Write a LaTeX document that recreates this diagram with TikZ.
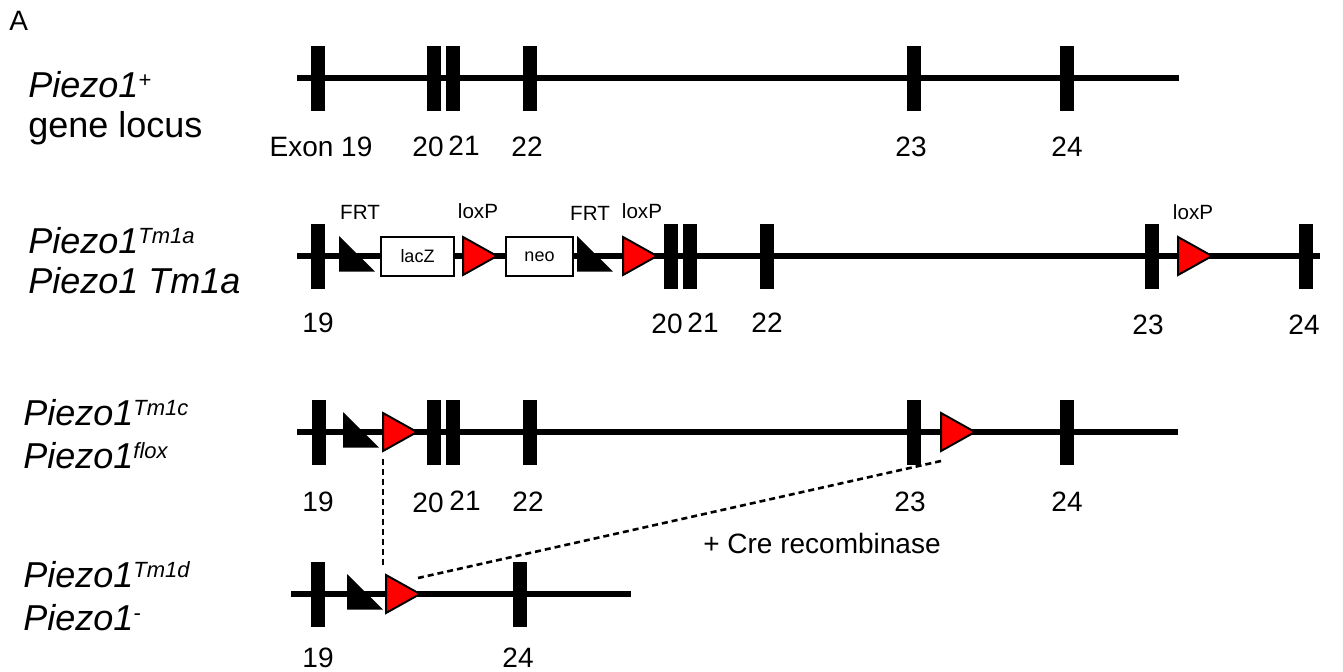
\documentclass[tikz,border=0pt]{standalone}
\usepackage{fontspec}
\setmainfont{Liberation Sans}
\usepackage{tikz}
\newcommand\gsup[1]{\raisebox{5pt}{\fontsize{11}{11}\selectfont #1}}
\tikzset{
  loxp/.pic={\filldraw[fill=red, draw=black, line width=1pt] (0,-19) -- (34,0) -- (0,19) -- cycle;
    \coordinate (-tl) at (0,-19); \coordinate (-bl) at (0,19); \coordinate (-tip) at (34,0);},
  frt/.pic={\fill (0,-20) -- (0,15.5) -- (36,15.5) -- cycle;}
}

\begin{document}
\begin{tikzpicture}[x=0.5pt, y=-0.5pt, exon/.style={fill=black, inner sep=0pt, minimum width=7pt, minimum height=32.5pt}, gene/.style={line width=3.2pt}, cassette/.style={draw=black, line width=0.9pt, fill=white, minimum width=36.5pt, minimum height=19.5pt, inner sep=0pt, font=\fontsize{9}{10}\selectfont}, site/.style={inner sep=0pt, font=\fontsize{10.3}{12}\selectfont}, num/.style={inner sep=0pt, font=\fontsize{14}{16}\selectfont}, allele/.style={anchor=base west, inner sep=0pt, font=\fontsize{18}{21}\selectfont\itshape}, cre/.style={line width=1.3pt, dash pattern=on 3pt off 2pt}
]
  \useasboundingbox (0,0) rectangle (1343,671);
  \node[anchor=base west, inner sep=0pt, font=\fontsize{14}{16}\selectfont] (panel) at (9,30) {A};

  % wild type locus
  \node[allele] (wt1) at (28,97) {Piezo1\gsup{+}};
  \node[allele, font=\fontsize{18}{21}\selectfont] (wt2) at (28,137) {gene locus};
  \draw[gene] (297,78) -- (1179,78);
  \node[exon] (a19) at (318,78) {};
  \node[exon] (a20) at (433.5,78) {};
  \node[exon] (a21) at (452.5,78) {};
  \node[exon] (a22) at (529.5,78) {};
  \node[exon] (a23) at (914,78) {};
  \node[exon] (a24) at (1067,78) {};
  \node[num] (na19) at (321,147) {Exon 19};
  \node[num] (na20) at (428,147) {20};
  \node[num] (na21) at (464,146) {21};
  \node[num] (na22) at (527,147) {22};
  \node[num] (na23) at (911,147) {23};
  \node[num] (na24) at (1067,147) {24};

  % Tm1a
  \node[allele] (tma1) at (28,253) {Piezo1\gsup{Tm1a}};
  \node[allele] (tma2) at (28,293) {Piezo1 Tm1a};
  \draw[gene] (297,256) -- (1320,256);
  \node[exon] (b19) at (318,256) {};
  \node[exon] (b20) at (671,256) {};
  \node[exon] (b21) at (690,256) {};
  \node[exon] (b22) at (767,256) {};
  \node[exon] (b23) at (1151.5,256) {};
  \node[exon] (b24) at (1305.5,256) {};
  \pic (bf1) at (339,256) {frt};
  \node[cassette] (lacz) at (417.5,256.5) {lacZ};
  \pic (b1) at (463,256) {loxp};
  \node[cassette, minimum width=33.5pt] (neo) at (539.5,256.5) {neo};
  \pic (bf2) at (577,256) {frt};
  \pic (b2) at (623,256) {loxp};
  \pic (b3) at (1178,256) {loxp};
  \node[site] (sf1) at (360,212) {FRT};
  \node[site] (sl1) at (478,211) {loxP};
  \node[site] (sf2) at (590,213) {FRT};
  \node[site] (sl2) at (642,211) {loxP};
  \node[site] (sl3) at (1193,212) {loxP};
  \node[num] (nb19) at (318,323) {19};
  \node[num] (nb20) at (667,324) {20};
  \node[num] (nb21) at (703,323) {21};
  \node[num] (nb22) at (767,323) {22};
  \node[num] (nb23) at (1148,325) {23};
  \node[num] (nb24) at (1304,325) {24};

  % Tm1c (flox)
  \node[allele] (tmc1) at (23,425) {Piezo1\gsup{Tm1c}};
  \node[allele] (tmc2) at (23,468) {Piezo1\gsup{flox}};
  \draw[gene] (297,432) -- (1178,432);
  \node[exon] (c19) at (318.5,432.5) {};
  \node[exon] (c20) at (433.5,432.5) {};
  \node[exon] (c21) at (452.5,432.5) {};
  \node[exon] (c22) at (529.5,432.5) {};
  \node[exon] (c23) at (914,432.5) {};
  \node[exon] (c24) at (1067,432.5) {};
  \pic (cf1) at (343,432) {frt};
  \pic (c1) at (383,432) {loxp};
  \pic (c3) at (941,432) {loxp};
  \node[num] (nc19) at (318,502) {19};
  \node[num] (nc20) at (428,503) {20};
  \node[num] (nc21) at (465,501) {21};
  \node[num] (nc22) at (528,502) {22};
  \node[num] (nc23) at (910,502) {23};
  \node[num] (nc24) at (1067,502) {24};

  % Tm1d (deleted)
  \node[allele] (tmd1) at (23,587) {Piezo1\gsup{Tm1d}};
  \node[allele] (tmd2) at (23,630) {Piezo1\gsup{-}};
  \draw[gene] (291,594) -- (631,594);
  \node[exon] (d19) at (318,594.5) {};
  \node[exon] (d24) at (520,594.5) {};
  \pic (df1) at (347,594) {frt};
  \pic (d1) at (386,594) {loxp};
  \node[num] (nd19) at (318,658) {19};
  \node[num] (nd24) at (518,658) {24};

  \draw[cre, shorten <=4pt, shorten >=5pt] (c1-bl) -- (c1-bl |- d1-tl);
  \draw[cre] ([yshift=-5pt]c3-bl) -- ([xshift=-1pt, yshift=8pt]d1-tip);
  \node[num] (crelab) at (822,543) {+ Cre recombinase};
\end{tikzpicture}
\end{document}
